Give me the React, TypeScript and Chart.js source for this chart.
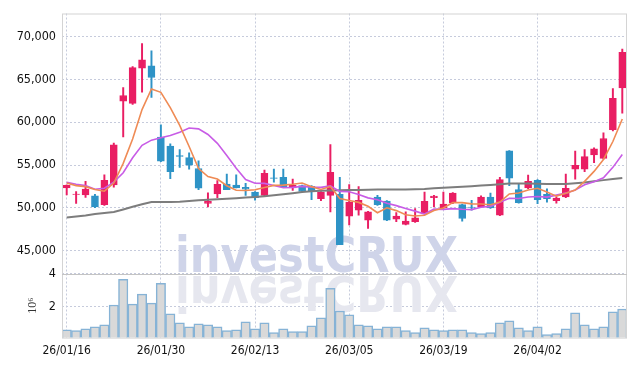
import { useEffect, useRef } from 'react';
import { Chart, registerables } from 'chart.js';
Chart.register(...registerables);

const dates = [
  '26/01/16', '26/01/19', '26/01/20', '26/01/21', '26/01/22', '26/01/23', '26/01/26', '26/01/27', '26/01/28', '26/01/29',
  '26/01/30', '26/02/02', '26/02/03', '26/02/04', '26/02/05', '26/02/06', '26/02/09', '26/02/10', '26/02/11', '26/02/12',
  '26/02/13', '26/02/19', '26/02/20', '26/02/23', '26/02/24', '26/02/25', '26/02/26', '26/02/27', '26/03/03', '26/03/04',
  '26/03/05', '26/03/06', '26/03/09', '26/03/10', '26/03/11', '26/03/12', '26/03/13', '26/03/16', '26/03/17', '26/03/18',
  '26/03/19', '26/03/20', '26/03/23', '26/03/24', '26/03/25', '26/03/26', '26/03/27', '26/03/30', '26/03/31', '26/04/01',
  '26/04/02', '26/04/03', '26/04/06', '26/04/07', '26/04/08', '26/04/09', '26/04/10', '26/04/13', '26/04/14', '26/04/15',
];

const opens = [
  52330, 51560, 51520, 51410, 50370, 52670, 62470, 62200, 66310, 66580,
  58280, 57210, 56100, 55870, 54600, 50530, 51640, 52790, 52670, 52410,
  51830, 51450, 53520, 53560, 52330, 52600, 52520, 51060, 51450, 51570,
  49030, 49730, 48570, 51260, 50800, 48690, 48070, 48380, 49330, 51180,
  49990, 50600, 50370, 50100, 50100, 51260, 49150, 56670, 52140, 52330,
  53220, 51570, 50830, 51290, 54520, 54520, 56180, 55780, 59130, 64010,
];
const highs = [
  52700, 51910, 53100, 51570, 53870, 57560, 64040, 66500, 69190, 68340,
  59700, 57480, 56820, 56440, 55490, 51750, 53180, 53940, 53870, 52870,
  51900, 54400, 54520, 54520, 53370, 52650, 52600, 51900, 57400, 53560,
  52720, 52490, 49600, 51450, 50850, 49450, 49530, 49910, 51830, 51450,
  51830, 51800, 50450, 50880, 51400, 51720, 53560, 56700, 52790, 53830,
  53300, 52210, 51250, 53940, 56640, 56820, 57000, 58750, 63930, 68540,
];
const lows = [
  51520, 50530, 51220, 50020, 50300, 52410, 58280, 62090, 63500, 62890,
  55400, 53410, 54710, 54520, 52140, 50100, 51180, 52140, 52330, 51450,
  50910, 51340, 52990, 52400, 52030, 51850, 50950, 50830, 49530, 45690,
  48000, 49150, 47600, 50300, 48500, 48380, 48000, 48300, 49300, 50100,
  49900, 50480, 48460, 49720, 50050, 49950, 49100, 52600, 50550, 52250,
  50480, 50680, 50560, 51200, 53360, 54220, 55290, 55700, 59000, 61050,
];
const closes = [
  52640, 51600, 52180, 50105, 53215, 57360, 63120, 66380, 67300, 65230,
  55440, 54220, 56000, 54980, 52290, 50760, 52760, 52140, 52330, 52180,
  51180, 54020, 53450, 52450, 52670, 51910, 51910, 51830, 54140, 45690,
  50680, 50880, 49530, 50370, 48570, 49030, 48460, 48840, 50760, 51370,
  50450, 51720, 48760, 50050, 51260, 49990, 53300, 53480, 50600, 53100,
  50950, 51060, 51140, 52290, 54980, 55980, 56900, 58100, 62780, 68160,
];

const ma5 = [
  52900, 52600, 52480, 52150, 51950, 52890, 55200, 58040, 61480, 63880,
  63490, 61710, 59640, 57170, 54590, 53650, 53360, 52590, 52060, 52030,
  52120, 52370, 52630, 52660, 52750, 52900, 52480, 52150, 52490, 51100,
  50850, 50640, 50180, 49430, 50010, 49680, 49190, 49050, 49130, 49690,
  49980, 50630, 50610, 50470, 50450, 50360, 50670, 51620, 51730, 52090,
  52290, 51840, 51370, 51710, 52080, 53090, 54260, 55650, 57750, 60380,
];
const ma10 = [
  52990, 52750, 52600, 52180, 52300, 53000, 54100, 55850, 57300, 57910,
  58190, 58460, 58840, 59330, 59230, 58570, 57540, 56110, 54620, 53310,
  52880, 52860, 52610, 52360, 52390, 52510, 52420, 52390, 52570, 51930,
  51880, 51560, 51170, 50960, 50550, 50260, 49920, 49620, 49280, 49850,
  49830, 49910, 49830, 49800, 50070, 50170, 50650, 51110, 51100, 51270,
  51320, 51260, 51490, 51720, 52090, 52690, 53050, 53510, 54730, 56230,
];
const maLong = [
  48870, 49000, 49120, 49280, 49400, 49530, 49820, 50130, 50420, 50680,
  50690, 50700, 50720, 50800, 50880, 50950, 51000, 51060, 51120, 51200,
  51260, 51360, 51460, 51580, 51720, 51860, 51950, 51990, 52020, 52050,
  52080, 52100, 52120, 52140, 52140, 52140, 52140, 52160, 52200, 52300,
  52360, 52420, 52480, 52530, 52600, 52680, 52760, 52850, 52850, 52850,
  52820, 52800, 52780, 52800, 52880, 52950, 53100, 53240, 53360, 53480,
];

const volumes = [
  0.6, 0.54, 0.66, 0.78, 0.9, 2.1, 3.66, 2.16, 2.76, 2.22,
  3.42, 1.56, 1.02, 0.78, 0.96, 0.9, 0.78, 0.54, 0.6, 1.08,
  0.66, 1.02, 0.42, 0.66, 0.48, 0.48, 0.84, 1.32, 3.12, 1.74,
  1.5, 0.9, 0.84, 0.66, 0.78, 0.78, 0.54, 0.42, 0.72, 0.6,
  0.54, 0.6, 0.6, 0.42, 0.36, 0.42, 1.02, 1.14, 0.72, 0.54,
  0.78, 0.3, 0.36, 0.66, 1.62, 0.9, 0.66, 0.78, 1.68, 1.86,
];

const priceTicks = [45000, 50000, 55000, 60000, 65000, 70000];
const volumeTicks = [2, 4];

const UP = '#e91e63';
const DOWN = '#2e93c6';
const GRID = '#c6cbdc';
const TICK_FONT = 'DejaVu Sans Condensed';

const watermarkPlugin = {
  id: 'watermark',
  beforeDatasetsDraw(chart: any) {
    const ctx = chart.ctx as CanvasRenderingContext2D;
    const text = 'investCRUX';
    ctx.save();
    ctx.font = 'bold 50px "DejaVu Sans"';
    const w = ctx.measureText(text).width;
    const sx = 283 / w;
    ctx.translate(175, 272);
    ctx.scale(sx, 1);
    ctx.textBaseline = 'alphabetic';
    ctx.fillStyle = '#cfd4e9';
    ctx.fillText(text, 0, 0);
    ctx.translate(0, 4);
    ctx.scale(1, -1);
    ctx.fillStyle = '#e6e7ef';
    ctx.fillText(text, 0, 0);
    ctx.restore();
  },
};

const framePlugin = {
  id: 'frame',
  afterDatasetsDraw(chart: any) {
    const ctx = chart.ctx as CanvasRenderingContext2D;
    const a = chart.chartArea;
    const yv = chart.scales.yv;
    ctx.save();
    ctx.strokeStyle = '#d4d4d4';
    ctx.lineWidth = 1;
    ctx.strokeRect(a.left + 0.5, a.top + 0.5, a.right - a.left - 1, a.bottom - a.top);
    ctx.strokeStyle = '#c4c4c4';
    ctx.beginPath();
    const y = Math.round(yv.top) + 0.5;
    ctx.moveTo(a.left, y);
    ctx.lineTo(a.right, y);
    ctx.stroke();
    ctx.restore();
  },
};

export default function App() {
  const ref = useRef<HTMLCanvasElement>(null);

  useEffect(() => {
    document.body.style.margin = '0';
    const colors = closes.map((c, i) => (c >= opens[i] ? UP : DOWN));
    const chart = new Chart(ref.current as HTMLCanvasElement, {
      type: 'bar',
      data: {
        labels: dates,
        datasets: [
          {
            type: 'line', label: 'MA5', data: ma5, yAxisID: 'y', order: 0,
            borderColor: '#ef8b55', borderWidth: 1.6, pointRadius: 0, tension: 0,
          } as any,
          {
            type: 'line', label: 'MA10', data: ma10, yAxisID: 'y', order: 0,
            borderColor: '#c85ce6', borderWidth: 1.6, pointRadius: 0, tension: 0,
          } as any,
          {
            type: 'line', label: 'MA60', data: maLong, yAxisID: 'y', order: 0,
            borderColor: '#7d7d7d', borderWidth: 2, pointRadius: 0, tension: 0,
          } as any,
          {
            type: 'bar', label: 'body', yAxisID: 'y', order: 1,
            data: dates.map((_, i) => [opens[i], closes[i]]),
            backgroundColor: colors, borderColor: colors, borderWidth: 1,
            borderSkipped: false, barThickness: 7, grouped: false,
          } as any,
          {
            type: 'bar', label: 'wick', yAxisID: 'y', order: 2,
            data: dates.map((_, i) => [lows[i], highs[i]]),
            backgroundColor: colors, borderWidth: 0, barThickness: 1.3, grouped: false,
          } as any,
          {
            type: 'bar', label: 'volume', yAxisID: 'yv', order: 3,
            data: volumes,
            backgroundColor: '#d9d9d9', borderColor: '#86b3d6', borderWidth: 1.5,
            barPercentage: 1, categoryPercentage: 1, grouped: false,
          } as any,
        ],
      },
      options: {
        responsive: false,
        animation: false,
        layout: { padding: { top: 9, right: 8, bottom: 2, left: 0 } },
        plugins: { legend: { display: false }, tooltip: { enabled: false } },
        scales: {
          x: {
            type: 'category',
            offset: true,
            grid: {
              offset: false,
              drawTicks: false,
              color: (c: any) => (c.index % 10 === 0 ? GRID : 'rgba(0,0,0,0)'),
            },
            border: { display: false, dash: [2, 2] },
            ticks: {
              autoSkip: false,
              maxRotation: 0,
              padding: 6,
              color: '#111',
              font: { family: TICK_FONT, size: 12 },
              callback: (_v: any, i: number) => (i % 10 === 0 ? dates[i] : ''),
            },
          },
          yv: {
            type: 'linear',
            position: 'left',
            stack: 'panes',
            stackWeight: 1,
            min: 0.12,
            max: 4,
            afterBuildTicks: (axis: any) => { axis.ticks = volumeTicks.map((v) => ({ value: v })); },
            afterFit: (axis: any) => { axis.width = 62; },
            grid: { drawTicks: false, color: GRID },
            border: { display: false, dash: [2, 2] },
            ticks: { padding: 6, color: '#111', font: { family: TICK_FONT, size: 12.5 } },
            title: {
              display: true, text: '10⁶', color: '#333',
              font: { family: 'Liberation Serif', size: 12 },
              padding: { top: 26, bottom: 0 },
            },
          },
          y: {
            type: 'linear',
            position: 'left',
            stack: 'panes',
            stackWeight: 4.08,
            min: 42300,
            max: 72700,
            afterBuildTicks: (axis: any) => { axis.ticks = priceTicks.map((v) => ({ value: v })); },
            afterFit: (axis: any) => { axis.width = 62; },
            grid: { drawTicks: false, color: GRID },
            border: { display: false, dash: [2, 2] },
            ticks: {
              padding: 6,
              color: '#111',
              font: { family: TICK_FONT, size: 12.5 },
              callback: (v: any) => Number(v).toLocaleString('en-US'),
            },
          },
        },
      } as any,
      plugins: [watermarkPlugin, framePlugin],
    });
    return () => chart.destroy();
  }, []);

  return (
    <div style={{ width: 635, height: 366 }}>
      <canvas ref={ref} width={635} height={366} />
    </div>
  );
}
